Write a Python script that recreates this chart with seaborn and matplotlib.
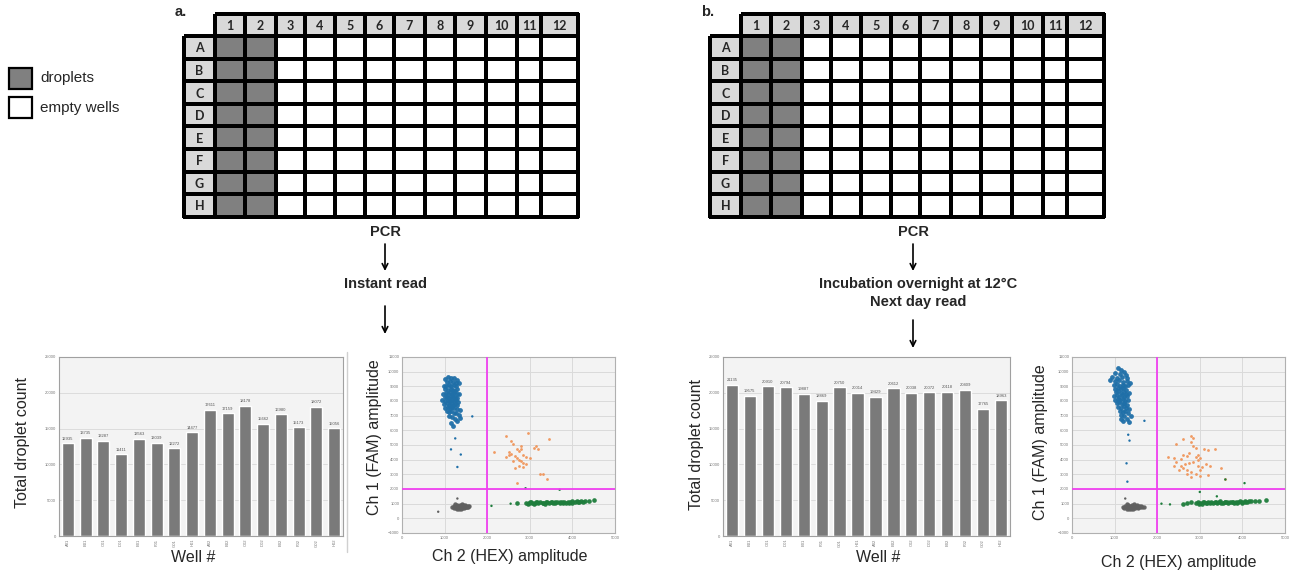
import numpy as np
import pandas as pd
import matplotlib.pyplot as plt
from matplotlib.colors import ListedColormap
from matplotlib.patches import Rectangle
import seaborn as sns

# ---------------------------------------------------------------
# Data
# ---------------------------------------------------------------
plate_rows = list("ABCDEFGH")
plate_cols = [str(c) for c in range(1, 13)]
filled_cols = [1, 2]  # columns loaded with droplets

wells = ["A01", "B01", "C01", "D01", "E01", "F01", "G01", "H01",
         "A02", "B02", "C02", "D02", "E02", "F02", "G02", "H02"]
counts_a = [12935, 13735, 13287, 11411, 13563, 13039, 12272, 14477,
            17611, 17159, 18178, 15662, 16980, 15173, 18072, 15056]
counts_b = [21135, 19575, 20910, 20794, 19887, 18869, 20750, 20014,
            19429, 20612, 20038, 20072, 20118, 20409, 17765, 18963]

# panel a droplet clusters (Ch2 HEX, Ch1 FAM)
fam_a_x = [1000, 1080, 1150, 1220, 1300, 1050, 1120, 1190, 1260, 1330, 980, 1040, 1100, 1160, 1210, 1270,
           1020, 1080, 1140, 1200, 1250, 1300, 960, 1030, 1090, 1130, 1170, 1220, 1280, 1340, 1000, 1060,
           1110, 1150, 1190, 1240, 1290, 940, 1020, 1080, 1130, 1170, 1210, 1260, 1320, 990, 1050, 1100,
           1150, 1200, 1250, 1300, 1020, 1080, 1130, 1180, 1230, 1290, 1360, 1050, 1110, 1160, 1210, 1270,
           1330, 1100, 1180, 1240, 1300, 1150, 1200, 1350]
fam_a_y = [9500, 9650, 9600, 9550, 9450, 9300, 9350, 9300, 9250, 9200, 9000, 9050, 9100, 9000, 9080, 9020,
           8800, 8750, 8850, 8780, 8700, 8800, 8500, 8550, 8450, 8600, 8500, 8550, 8450, 8500, 8250, 8300,
           8200, 8350, 8250, 8300, 8200, 8100, 8000, 8100, 8000, 8100, 7980, 8050, 7950, 7800, 7850, 7750,
           7850, 7750, 7800, 7700, 7550, 7600, 7500, 7600, 7500, 7450, 7400, 7300, 7250, 7350, 7200, 7150,
           7050, 6950, 6900, 6800, 6650, 6500, 6300, 6850]
dbl_a_x = [2450, 2550, 2600, 2150, 2500, 2700, 2750, 2800, 2850, 2650, 2700, 2750, 2800, 2850, 2900, 2600,
           2550, 2950, 3100, 3150, 3200, 3450, 2900, 3000, 2750, 2850, 2650, 3250, 3300, 3400, 2700, 2800,
           2500, 2450]
dbl_a_y = [5600, 5300, 5100, 4550, 4500, 4700, 4600, 4750, 4300, 4250, 4100, 4000, 3900, 3800, 3700, 3900,
           4400, 5800, 4800, 4900, 4700, 5400, 4200, 4100, 3600, 3500, 3400, 3000, 3000, 2700, 2400, 4900,
           4300, 4150]
neg_a_x = [1180, 1220, 1230, 1260, 1270, 1280, 1300, 1310, 1320, 1340, 1350, 1360, 1380, 1390, 1400, 1420,
           1430, 1440, 1460, 1470, 1480, 1500, 1510, 1530, 1550, 1560, 1580, 1250, 1410, 1330]
neg_a_y = [780, 720, 850, 680, 790, 900, 640, 750, 860, 700, 800, 920, 660, 760, 870, 720,
           820, 940, 680, 780, 880, 740, 840, 800, 760, 870, 820, 950, 960, 620]
hex_a_x = [2700, 2900, 2950, 3000, 3050, 3100, 3150, 3200, 3250, 3300, 3350, 3400, 3450, 3500, 3550,
           3600, 3650, 3700, 3750, 3800, 3850, 3900, 3950, 4000, 4050, 4100, 4150, 4200, 4250, 4300, 4400,
           4500, 3020, 3180, 3380, 3580, 3780, 3980, 2980, 3120, 3320, 3520, 3720, 3920, 4120]
hex_a_y = [1030, 1060, 1010, 1090, 1040, 1000, 1080, 1030, 1100, 1050, 1010, 1090, 1040, 1110, 1060,
           1020, 1100, 1070, 1130, 1080, 1040, 1120, 1090, 1150, 1100, 1170, 1120, 1190, 1140, 1200, 1170,
           1220, 1130, 1120, 1130, 1140, 1030, 1040, 1050, 1060, 1070, 1080, 1100, 1060, 1080]
# stray droplets outside the main clusters
out_a_x = [1650, 1250, 1150, 1380, 1300, 1300, 850, 2550, 2100, 2900, 3700]
out_a_y = [6950, 5450, 4700, 4350, 3500, 1350, 450, 1000, 850, 2050, 1950]
out_a_c = ["#1f6fa8"] * 5 + ["#606060"] * 2 + ["#1e7d3c"] * 4

# panel b droplet clusters
fam_b_x = [1080, 1150, 1220, 1000, 1120, 1270, 950, 1050, 1180, 1300, 900, 1000, 1100, 1200, 1280, 1350,
           980, 1060, 1130, 1190, 1250, 1320, 1020, 1080, 1140, 1200, 1260, 1030, 1090, 1150, 1210, 1270,
           1340, 980, 1050, 1110, 1170, 1230, 1300, 1010, 1070, 1130, 1190, 1250, 1320, 1050, 1110, 1170,
           1230, 1290, 1080, 1150, 1210, 1270, 1340, 1120, 1190, 1250, 1310, 1380, 1150, 1230, 1290, 1200,
           1330, 1150]
fam_b_y = [10250, 10100, 10000, 9900, 9850, 9800, 9650, 9600, 9650, 9550, 9400, 9350, 9400, 9300, 9350, 9250,
           9100, 9150, 9050, 9120, 9000, 9080, 8850, 8900, 8800, 8880, 8780, 8600, 8650, 8550, 8620, 8500,
           8550, 8350, 8400, 8300, 8380, 8280, 8330, 8100, 8150, 8050, 8120, 8000, 8080, 7850, 7900, 7800,
           7870, 7750, 7600, 7550, 7650, 7500, 7450, 7300, 7250, 7350, 7150, 7000, 7050, 6950, 6800, 6650,
           6600, 6800]
dbl_b_x = [2800, 2850, 2600, 2450, 2800, 2850, 2900, 3100, 3200, 3350, 2250, 2400, 2550, 2600, 2700, 2750,
           2900, 2950, 3000, 2950, 2850, 2750, 2650, 2550, 2450, 2400, 2600, 2700, 2800, 2900, 3000, 3050,
           3150, 3250, 3500, 2700, 2800, 3000, 3200, 3600, 2500, 2950]
dbl_b_y = [5600, 5450, 5400, 5100, 5200, 4900, 4800, 4750, 4650, 4700, 4200, 4100, 4050, 4300, 4250, 4450,
           4200, 4300, 4100, 3950, 3850, 3800, 3700, 3600, 3850, 3550, 3400, 3300, 3150, 3050, 3300, 3500,
           3700, 3600, 3400, 3000, 2850, 2900, 2950, 2650, 3300, 3600]
neg_b_x = [1200, 1230, 1250, 1280, 1300, 1320, 1340, 1350, 1370, 1390, 1400, 1420, 1440, 1450, 1470, 1490,
           1500, 1520, 1540, 1560, 1580, 1600, 1620, 1650, 1680, 1290, 1460, 1380]
neg_b_y = [780, 700, 860, 660, 780, 900, 640, 740, 840, 700, 800, 900, 660, 760, 860, 720,
           820, 920, 690, 790, 870, 740, 830, 790, 760, 960, 960, 620]
hex_b_x = [2600, 2700, 2800, 2900, 2950, 3000, 3050, 3100, 3150, 3200, 3250, 3300, 3350, 3400,
           3450, 3500, 3550, 3600, 3650, 3700, 3750, 3800, 3850, 3900, 3950, 4000, 4050, 4100, 4150, 4200,
           4300, 4400, 4550, 3070, 3270, 3470, 3670, 3870, 4070, 2980, 3180, 3380, 3580, 3780, 3980]
hex_b_y = [1000, 1050, 1080, 1020, 1100, 1050, 1010, 1090, 1040, 1110, 1060, 1020, 1100, 1050,
           1120, 1070, 1030, 1110, 1080, 1140, 1090, 1050, 1130, 1100, 1160, 1120, 1180, 1140, 1200, 1150,
           1190, 1160, 1220, 1140, 1130, 1150, 1040, 1060, 1080, 1000, 1070, 1080, 1090, 1110, 1070]
out_b_x = [1700, 1350, 1320, 1280, 1300, 1250, 2100, 2300, 3000, 3400, 4050, 3600]
out_b_y = [6650, 5300, 5700, 3750, 2500, 1350, 1000, 950, 1800, 1500, 2400, 2650]
out_b_c = ["#1f6fa8"] * 5 + ["#606060"] + ["#1e7d3c"] * 6

# ---------------------------------------------------------------
# Style
# ---------------------------------------------------------------
sns.set_style("white")
plt.rcParams["font.family"] = ["Liberation Sans", "DejaVu Sans"]

W, H = 1296, 573
fig = plt.figure(figsize=(W / 100, H / 100), dpi=100)

# overlay axes in pixel coordinates for the schematic parts
ax0 = fig.add_axes([0, 0, 1, 1])
ax0.set_xlim(0, W)
ax0.set_ylim(H, 0)
ax0.axis("off")


def px_axes(left, top, right, bottom):
    return fig.add_axes([left / W, 1 - bottom / H, (right - left) / W, (bottom - top) / H])


# ---------------------------------------------------------------
# Plate layouts
# ---------------------------------------------------------------
col_widths = [31, 30, 31, 29, 30, 30, 29, 31, 30, 31, 31, 24, 37]
row_heights = [22] + [22.6] * 8
plate_cmap = ListedColormap(["white", "#808080", "#d9d9d9"])


def draw_plate(x0, y0, tag):
    xe = x0 + np.concatenate([[0], np.cumsum(col_widths)])
    ye = y0 + np.concatenate([[0], np.cumsum(row_heights)])
    body = np.zeros((len(plate_rows), len(plate_cols)))
    for c in filled_cols:
        body[:, c - 1] = 1
    mesh = dict(cmap=plate_cmap, vmin=-0.5, vmax=2.5, edgecolors="black", linewidth=1.6)
    ax0.pcolormesh(xe[1:], ye[1:], body, **mesh)
    ax0.pcolormesh(xe[1:], ye[:2], np.full((1, len(plate_cols)), 2), **mesh)
    ax0.pcolormesh(xe[:2], ye[1:], np.full((len(plate_rows), 1), 2), **mesh)
    xc = (xe[:-1] + xe[1:]) / 2
    yc = (ye[:-1] + ye[1:]) / 2
    for i, lab in enumerate(plate_cols):
        ax0.text(xc[i + 1], yc[0] + 1, lab, ha="center", va="center",
                 fontsize=9, fontweight="bold", family=["Lato", "DejaVu Sans"])
    for j, lab in enumerate(plate_rows):
        ax0.text(xc[0], yc[j + 1] + 1, lab, ha="center", va="center",
                 fontsize=9, fontweight="bold", family=["Lato", "DejaVu Sans"])
    ax0.text(x0 - 9, y0 - 2, tag, ha="left", va="center", fontsize=10.5, fontweight="bold")


draw_plate(184, 14, "a.")
draw_plate(710, 14, "b.")

# legend
ax0.add_patch(Rectangle((9, 68), 23, 21, facecolor="#808080", edgecolor="black", lw=1.6))
ax0.add_patch(Rectangle((9, 97), 23, 21, facecolor="white", edgecolor="black", lw=1.6))
ax0.text(40, 78, "droplets", ha="left", va="center", fontsize=11)
ax0.text(40, 108, "empty wells", ha="left", va="center", fontsize=11)

# workflow text + arrows
arrow = dict(arrowstyle="->", color="black", lw=1.2, shrinkA=0, shrinkB=0)
ax0.text(385, 232, "PCR", ha="center", va="center", fontsize=10.5, fontweight="bold")
ax0.annotate("", xy=(385, 271), xytext=(385, 244), arrowprops=arrow)
ax0.text(385, 284, "Instant read", ha="center", va="center", fontsize=10.5, fontweight="bold")
ax0.annotate("", xy=(385, 334), xytext=(385, 306), arrowprops=arrow)

ax0.text(913, 232, "PCR", ha="center", va="center", fontsize=10.5, fontweight="bold")
ax0.annotate("", xy=(913, 271), xytext=(913, 244), arrowprops=arrow)
ax0.text(918, 284, "Incubation overnight at 12\u00b0C", ha="center", va="center",
         fontsize=10.5, fontweight="bold")
ax0.text(918, 302, "Next day read", ha="center", va="center", fontsize=10.5, fontweight="bold")
ax0.annotate("", xy=(913, 348), xytext=(913, 320), arrowprops=arrow)

# screenshot edge between the two panel-a charts
ax0.plot([347, 347], [352, 552], color="#d0d0d0", lw=1)


# ---------------------------------------------------------------
# Bar charts: total droplet count
# ---------------------------------------------------------------
def bar_panel(ax, counts):
    df = pd.DataFrame({"well": wells, "count": counts})
    sns.barplot(data=df, x="well", y="count", color="#7a7a7a", width=0.68,
                saturation=1, ax=ax, zorder=2)
    ax.set_facecolor("#f3f3f3")
    ax.set_ylim(0, 25000)
    ax.set_xlim(-0.5, len(wells) - 0.5)
    ax.set_yticks(range(0, 25001, 5000))
    ax.yaxis.grid(True, color="#dcdcdc", lw=0.7, zorder=0)
    ax.tick_params(axis="both", length=0, labelsize=3, colors="#777777", pad=2)
    ax.tick_params(axis="x", rotation=90)
    for s in ax.spines.values():
        s.set_color("#a0a0a0")
        s.set_linewidth(0.8)
    ax.set_xlabel("")
    ax.set_ylabel("")
    for i, v in enumerate(counts):
        ax.text(i, v + 350, str(v), ha="center", va="bottom", fontsize=3, color="#555555")


ax_ba = px_axes(59, 357, 343, 536)
bar_panel(ax_ba, counts_a)
ax_bb = px_axes(723, 357, 1010, 536)
bar_panel(ax_bb, counts_b)


# ---------------------------------------------------------------
# 2D amplitude plots
# ---------------------------------------------------------------
def scatter_panel(ax, clusters, strays):
    ax.set_facecolor("#f3f3f3")
    for xs, ys, col, size in clusters:
        sns.scatterplot(x=xs, y=ys, color=col, s=size, linewidth=0, alpha=0.95, ax=ax, zorder=3)
    sx, sy, sc = strays
    ax.scatter(sx, sy, c=sc, s=3, linewidths=0, zorder=3)
    ax.set_xlim(0, 5000)
    ax.set_ylim(-1000, 11000)
    ax.set_xticks(range(0, 5001, 1000))
    ax.set_yticks(range(-1000, 11001, 1000))
    ax.grid(True, color="#dadada", lw=0.7, zorder=0)
    ax.axvline(2000, color="#f040f0", lw=1.3, zorder=4)
    ax.axhline(2000, color="#f040f0", lw=1.3, zorder=4)
    ax.tick_params(axis="both", length=0, labelsize=3, colors="#777777", pad=2)
    for s in ax.spines.values():
        s.set_color("#b0b0b0")
        s.set_linewidth(0.8)


ax_sa = px_axes(402, 357, 615, 533)
scatter_panel(ax_sa, [
    (fam_a_x, fam_a_y, "#1f6fa8", 12),
    (dbl_a_x, dbl_a_y, "#f0955a", 4),
    (neg_a_x, neg_a_y, "#606060", 10),
    (hex_a_x, hex_a_y, "#1e7d3c", 11),
], (out_a_x, out_a_y, out_a_c))
ax_sb = px_axes(1072, 357, 1285, 533)
scatter_panel(ax_sb, [
    (fam_b_x, fam_b_y, "#1f6fa8", 12),
    (dbl_b_x, dbl_b_y, "#f0955a", 4),
    (neg_b_x, neg_b_y, "#606060", 10),
    (hex_b_x, hex_b_y, "#1e7d3c", 11),
], (out_b_x, out_b_y, out_b_c))

# axis titles
lab = dict(ha="center", va="center", fontsize=11.5)
fig.text(23 / W, 1 - 443 / H, "Total droplet count", rotation=90, **lab)
fig.text(193 / W, 1 - 558 / H, "Well #", **lab)
fig.text(374 / W, 1 - 437 / H, "Ch 1 (FAM) amplitude", rotation=90, **lab)
fig.text(510 / W, 1 - 557 / H, "Ch 2 (HEX) amplitude", **lab)
fig.text(697 / W, 1 - 445 / H, "Total droplet count", rotation=90, **lab)
fig.text(878 / W, 1 - 558 / H, "Well #", **lab)
fig.text(1041 / W, 1 - 442 / H, "Ch 1 (FAM) amplitude", rotation=90, **lab)
fig.text(1179 / W, 1 - 562 / H, "Ch 2 (HEX) amplitude", **lab)

fig.savefig("out.png", dpi=100)
plt.close(fig)
